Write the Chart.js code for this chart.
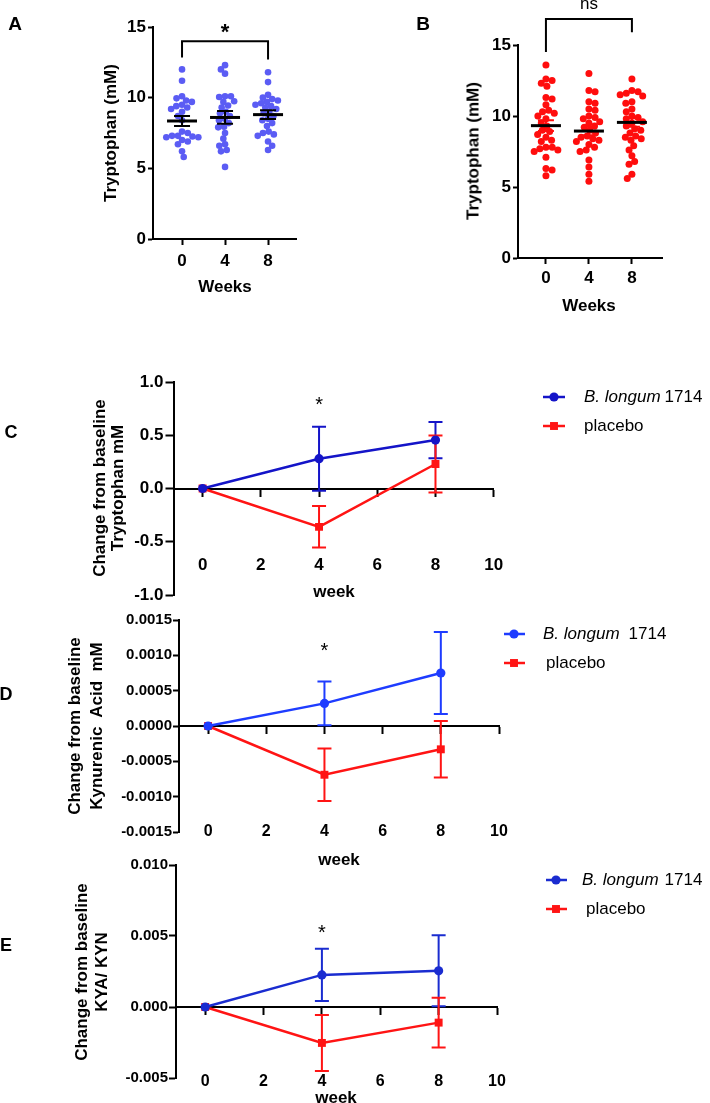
<!DOCTYPE html>
<html><head><meta charset="utf-8">
<script src="https://cdn.jsdelivr.net/npm/chart.js@4.4.0/dist/chart.umd.min.js"></script>
<style>
html,body{margin:0;padding:0;background:#fff;}
#wrap{position:relative;width:710px;height:1103px;overflow:hidden;background:#fff;}
canvas{position:absolute;}
.t{position:absolute;font-family:'Liberation Sans',Arial,sans-serif;color:#000;white-space:pre;transform:translate(-50%,-50%);line-height:1;}
.b{font-weight:bold;}
.rot{transform:translate(-50%,-50%) rotate(-90deg);text-align:center;}
</style></head><body>
<div id="wrap">
<canvas id="cA" width="345" height="300" style="left:0;top:0;width:345px;height:300px"></canvas>
<canvas id="cB" width="340" height="330" style="left:370px;top:0;width:340px;height:330px"></canvas>
<canvas id="cC" width="710" height="280" style="left:0;top:330px;width:710px;height:280px"></canvas>
<canvas id="cD" width="710" height="265" style="left:0;top:605px;width:710px;height:265px"></canvas>
<canvas id="cE" width="710" height="253" style="left:0;top:850px;width:710px;height:253px"></canvas>

<div class="t b" style="left:15px;top:23px;font-size:19px">A</div>
<div class="t b" style="left:423px;top:23px;font-size:19px">B</div>
<div class="t b rot" style="left:110px;top:133px;font-size:17px">Tryptophan (mM)</div>
<div class="t b rot" style="left:473px;top:151px;font-size:17px">Tryptophan (mM)</div>
<div class="t b" style="left:225px;top:286px;font-size:17px">Weeks</div>
<div class="t b" style="left:589px;top:305px;font-size:17px">Weeks</div>

<div class="t b" style="left:11px;top:432px;font-size:18px">C</div>
<div class="t b rot" style="left:108px;top:488px;font-size:17px;line-height:17.5px">Change from baseline
Tryptophan mM</div>
<div class="t b" style="left:334px;top:591px;font-size:17px">week</div>

<div class="t b" style="left:6px;top:694px;font-size:18px">D</div>
<div class="t b rot" style="left:86px;top:726px;font-size:17px;line-height:22px">Change from baseline
Kynurenic  Acid  mM</div>
<div class="t b" style="left:339px;top:859px;font-size:17px">week</div>

<div class="t b" style="left:6px;top:945px;font-size:18px">E</div>
<div class="t b rot" style="left:92px;top:972px;font-size:17px;line-height:20px">Change from baseline
KYA/ KYN</div>
<div class="t b" style="left:336px;top:1097px;font-size:17px">week</div>
</div>

<script>
// ---------- Panels A & B: individual tryptophan values (mM) ----------
const weeksAB = [0, 4, 8];
const yTicksAB = [0, 5, 10, 15];
const trpA_wk0 = [12.0, 11.2, 10.1, 9.95, 9.8, 9.7, 9.5, 9.4, 9.3, 9.2, 9.0, 8.7, 8.4, 7.6, 7.5, 7.3, 7.3, 7.25, 7.2, 7.2, 7.0, 6.9, 6.7, 6.2, 5.8];
const trpA_wk4 = [12.3, 12.0, 11.7, 10.1, 10.1, 10.05, 9.75, 9.7, 9.45, 9.3, 9.0, 8.9, 8.7, 8.5, 8.4, 8.2, 7.95, 7.9, 7.5, 7.1, 6.7, 6.6, 6.3, 6.2, 5.1];
const trpA_wk8 = [11.8, 11.1, 10.2, 10.0, 9.9, 9.8, 9.7, 9.6, 9.5, 9.4, 9.3, 9.2, 9.0, 8.9, 8.7, 8.5, 8.4, 8.2, 8.0, 7.6, 7.5, 7.4, 7.3, 6.9, 6.6, 6.3];
const trpA_mean = [8.35, 8.6, 8.8];
const trpA_sem = [0.35, 0.45, 0.31];

const trpB_wk0 = [13.6, 12.6, 12.5, 12.3, 12.1, 11.3, 11.2, 10.8, 10.4, 10.3, 10.2, 10.0, 9.8, 9.5, 9.3, 9.0, 8.9, 8.7, 8.5, 8.3, 8.2, 7.8, 7.8, 7.7, 7.6, 7.5, 7.1, 6.3, 6.2, 5.8];
const trpB_wk4 = [13.0, 11.8, 11.7, 11.0, 10.9, 10.5, 10.4, 10.0, 9.9, 9.8, 9.6, 9.5, 9.3, 9.2, 9.0, 8.8, 8.6, 8.5, 8.4, 8.3, 8.2, 8.0, 7.8, 7.6, 7.5, 6.9, 6.4, 5.9, 5.4];
const trpB_wk8 = [12.6, 11.8, 11.7, 11.6, 11.5, 11.4, 11.0, 10.9, 10.5, 10.3, 10.0, 9.9, 9.8, 9.6, 9.5, 9.3, 9.1, 9.0, 8.8, 8.6, 8.5, 8.4, 8.3, 7.9, 7.6, 7.2, 6.8, 6.6, 5.9, 5.6];
const trpB_mean = [9.32, 8.94, 9.55];
const trpB_sem = [0.38, 0.3, 0.3];

// ---------- Panels C, D, E: change from baseline (mean, SEM) ----------
const weeks = [0, 4, 8];
const weekTicks = [0, 2, 4, 6, 8, 10];
const legendItalic = ['B. longum', ''];
const legendPlain = ['1714', 'placebo'];

const trpChangeLongum = [0, 0.28, 0.455];
const trpChangeLongumSem = [0, 0.30, 0.17];
const trpChangePlacebo = [0, -0.36, 0.23];
const trpChangePlaceboSem = [0, 0.195, 0.267];
const trpChangeTicks = [-1.0, -0.5, 0.0, 0.5, 1.0];

const kynaChangeLongum = [0, 0.00032, 0.00075];
const kynaChangeLongumSem = [0, 0.00031, 0.00058];
const kynaChangePlacebo = [0, -0.00069, -0.00033];
const kynaChangePlaceboSem = [0, 0.00037, 0.0004];
const kynaChangeTicks = [-0.0015, -0.0010, -0.0005, 0.0, 0.0005, 0.0010, 0.0015];

const ratioChangeLongum = [0, 0.00226, 0.00255];
const ratioChangeLongumSem = [0, 0.00184, 0.0025];
const ratioChangePlacebo = [0, -0.00253, -0.0011];
const ratioChangePlaceboSem = [0, 0.00197, 0.00175];
const ratioChangeTicks = [-0.005, 0.0, 0.005, 0.010];

const FONT = "'Liberation Sans', Arial, Helvetica, sans-serif";

function axisBase(tickLen, size, pad) {
  return {
    grid: {display: true, drawOnChartArea: false, drawTicks: true, tickLength: tickLen, tickWidth: 2, tickColor: '#000'},
    border: {display: true, color: '#000', width: 2},
    ticks: {color: '#000', padding: pad, font: {family: FONT, size: size, weight: 'bold'}}
  };
}

function swarm(chart, groups, r, spacing) {
  const xs = chart.scales.x, ys = chart.scales.y;
  const D = spacing;
  const out = [];
  groups.forEach((vals, gi) => {
    const cx = xs.getPixelForValue(weeksAB[gi]);
    const placed = [];
    const order = vals.slice().sort((a, b) => b - a);
    let flip = 1;
    order.forEach(v => {
      const py = ys.getPixelForValue(v);
      const cands = [0];
      placed.forEach(p => {
        const dy = py - p.y;
        if (Math.abs(dy) < D) {
          const dx = Math.sqrt(D * D - dy * dy);
          cands.push(p.x + dx, p.x - dx);
        }
      });
      cands.sort((a, b) => (Math.abs(a) - Math.abs(b)) || (b - a) * flip);
      let best = null;
      for (const c of cands) {
        if (placed.every(p => (c - p.x) ** 2 + (py - p.y) ** 2 >= D * D - 0.01)) { best = c; break; }
      }
      if (best === null) best = 0;
      flip = -flip;
      placed.push({x: best, y: py});
      out.push({x: xs.getValueForPixel(cx + best), y: v});
    });
  });
  chart.data.datasets[0].data = out;
  chart.update('none');
}

function dotPanel(id, cfg) {
  const canvas = document.getElementById(id);
  const extras = {
    id: 'extras' + id,
    afterDatasetsDraw(chart) {
      const ctx = chart.ctx, xs = chart.scales.x, ys = chart.scales.y;
      ctx.save();
      weeksAB.forEach((w, i) => {
        const cx = xs.getPixelForValue(w);
        const yT = ys.getPixelForValue(cfg.mean[i] + cfg.sem[i]);
        const yB = ys.getPixelForValue(cfg.mean[i] - cfg.sem[i]);
        const yM = ys.getPixelForValue(cfg.mean[i]);
        ctx.strokeStyle = cfg.semColor; ctx.lineWidth = 2;
        ctx.beginPath();
        ctx.moveTo(cx, yT); ctx.lineTo(cx, yB);
        ctx.moveTo(cx - 8, yT); ctx.lineTo(cx + 8, yT);
        ctx.moveTo(cx - 8, yB); ctx.lineTo(cx + 8, yB);
        ctx.stroke();
        ctx.strokeStyle = '#000'; ctx.lineWidth = 3;
        ctx.beginPath(); ctx.moveTo(cx - 15, yM); ctx.lineTo(cx + 15, yM); ctx.stroke();
      });
      const b = cfg.bracket;
      const x1 = xs.getPixelForValue(weeksAB[0]), x2 = xs.getPixelForValue(weeksAB[2]);
      const yb = ys.getPixelForValue(b.top);
      ctx.strokeStyle = '#000'; ctx.lineWidth = 2;
      ctx.beginPath();
      ctx.moveTo(x1, ys.getPixelForValue(b.leftEnd)); ctx.lineTo(x1, yb);
      ctx.lineTo(x2, yb); ctx.lineTo(x2, ys.getPixelForValue(b.rightEnd));
      ctx.stroke();
      ctx.fillStyle = '#000'; ctx.font = b.font; ctx.textAlign = 'center'; ctx.textBaseline = 'middle';
      ctx.fillText(b.label, (x1 + x2) / 2, ys.getPixelForValue(b.labelY));
      ctx.restore();
    }
  };
  const groups = cfg.groups;
  const yAxis = Object.assign(axisBase(5, 17, 2), {
    type: 'linear', position: 'left', min: 0, max: 15,
    afterBuildTicks: s => { s.ticks = yTicksAB.map(v => ({value: v})); },
    afterFit: s => { s.width = cfg.yWidth; }
  });
  const xAxis = Object.assign(axisBase(6, 17, cfg.xPad), {
    type: 'linear', position: 'bottom', min: cfg.xMin, max: cfg.xMax,
    afterBuildTicks: s => { s.ticks = weeksAB.map(v => ({value: v})); },
    afterFit: s => { s.height = cfg.xHeight; }
  });
  const chart = new Chart(canvas, {
    type: 'scatter',
    data: {datasets: [{
      data: groups.flatMap((g, gi) => g.map(v => ({x: weeksAB[gi], y: v}))),
      backgroundColor: cfg.color, borderWidth: 0, pointRadius: cfg.r, pointHoverRadius: cfg.r
    }]},
    options: {
      responsive: false, animation: false, devicePixelRatio: 1, events: [],
      layout: {padding: cfg.padding},
      plugins: {legend: {display: false}, tooltip: {enabled: false}},
      scales: {x: xAxis, y: yAxis}
    },
    plugins: [extras]
  });
  swarm(chart, groups, cfg.r, cfg.spacing);
  return chart;
}

dotPanel('cA', {
  groups: [trpA_wk0, trpA_wk4, trpA_wk8], mean: trpA_mean, sem: trpA_sem,
  color: '#5b5cf4', semColor: '#000', r: 3.3, spacing: 5.9,
  yWidth: 153, xHeight: 61, xPad: 6, xMin: -2.7, xMax: 10.6,
  padding: {left: 0, top: 27, right: 49, bottom: 0},
  bracket: {top: 14.0, leftEnd: 12.85, rightEnd: 12.7, label: '*', labelY: 14.6, font: 'bold 22px ' + FONT}
});
dotPanel('cB', {
  groups: [trpB_wk0, trpB_wk4, trpB_wk8], mean: trpB_mean, sem: trpB_sem,
  color: '#ff0d0d', semColor: '#ff0d0d', r: 3.5, spacing: 6.3,
  yWidth: 148, xHeight: 72, xPad: 4, xMin: -2.6, xMax: 10.8,
  padding: {left: 0, top: 45, right: 48, bottom: 0},
  bracket: {top: 16.83, leftEnd: 14.5, rightEnd: 15.9, label: 'ns', labelY: 17.9, font: '17px ' + FONT}
});

function changePanel(id, cfg) {
  const canvas = document.getElementById(id);
  const mk = vals => weeks.map((w, i) => ({x: w, y: vals[i]}));
  const sems = [cfg.longumSem, cfg.placeboSem];
  const styles = [
    {color: cfg.blue, shape: 'circle', r: 4.6},
    {color: cfg.red, shape: 'rect', r: 5.6}
  ];
  const extras = {
    id: 'extras' + id,
    beforeDatasetsDraw(chart) {
      const ctx = chart.ctx, xs = chart.scales.x, ys = chart.scales.y;
      ctx.save();
      chart.data.datasets.forEach((ds, di) => {
        ctx.strokeStyle = styles[di].color; ctx.lineWidth = 2;
        ds.data.forEach((p, i) => {
          const e = sems[di][i];
          if (!e) return;
          const cx = xs.getPixelForValue(p.x);
          const yT = ys.getPixelForValue(p.y + e), yB = ys.getPixelForValue(p.y - e);
          ctx.beginPath();
          ctx.moveTo(cx, yT); ctx.lineTo(cx, yB);
          ctx.moveTo(cx - 7, yT); ctx.lineTo(cx + 7, yT);
          ctx.moveTo(cx - 7, yB); ctx.lineTo(cx + 7, yB);
          ctx.stroke();
        });
      });
      ctx.restore();
    },
    afterDraw(chart) {
      const ctx = chart.ctx, xs = chart.scales.x, ys = chart.scales.y;
      ctx.save();
      ctx.fillStyle = '#000'; ctx.textAlign = 'center'; ctx.textBaseline = 'middle';
      ctx.font = '20px ' + FONT;
      ctx.fillText('*', xs.getPixelForValue(cfg.starWeek), ys.getPixelForValue(cfg.starY));
      const L = cfg.legend;
      styles.forEach((st, i) => {
        const y = L.rows[i];
        ctx.strokeStyle = st.color; ctx.lineWidth = 2.5;
        ctx.beginPath(); ctx.moveTo(L.x0, y); ctx.lineTo(L.x1, y); ctx.stroke();
        ctx.fillStyle = st.color;
        if (st.shape === 'circle') {
          ctx.beginPath(); ctx.arc(L.xm, y, st.r, 0, Math.PI * 2); ctx.fill();
        } else {
          const h = st.r * Math.SQRT1_2;
          ctx.fillRect(L.xm - h, y - h, 2 * h, 2 * h);
        }
        ctx.fillStyle = '#000'; ctx.textAlign = 'left'; ctx.textBaseline = 'middle';
        let x = L.tx[i];
        if (legendItalic[i]) {
          ctx.font = 'italic 17px ' + FONT;
          ctx.fillText(legendItalic[i], x, y);
          x += ctx.measureText(legendItalic[i]).width + L.gap;
        }
        ctx.font = '17px ' + FONT;
        ctx.fillText(legendPlain[i], x, y);
      });
      ctx.restore();
    }
  };
  const yAxis = Object.assign(axisBase(cfg.yTick, cfg.yFont, cfg.yPad), {
    type: 'linear', position: 'left', min: cfg.ticks[0], max: cfg.ticks[cfg.ticks.length - 1],
    afterBuildTicks: s => { s.ticks = cfg.ticks.map(v => ({value: v})); },
    afterFit: s => { s.width = cfg.yWidth; }
  });
  yAxis.ticks.callback = v => (Math.abs(v) < 1e-12 ? 0 : v).toFixed(cfg.decimals);
  const xAxis = Object.assign(axisBase(7, cfg.xFont, cfg.xPad), {
    type: 'linear', position: {y: 0}, min: -1, max: 10,
    afterBuildTicks: s => { s.ticks = weekTicks.map(v => ({value: v})); }
  });
  return new Chart(canvas, {
    type: 'line',
    data: {datasets: [
      {data: mk(cfg.longum), borderColor: cfg.blue, backgroundColor: cfg.blue, pointStyle: 'circle',
       pointRadius: 4.6, pointHoverRadius: 4.6, borderWidth: 2.5, pointBorderWidth: 0, fill: false, tension: 0},
      {data: mk(cfg.placebo), borderColor: cfg.red, backgroundColor: cfg.red, pointStyle: 'rect',
       pointRadius: 5.6, pointHoverRadius: 5.6, borderWidth: 2.5, pointBorderWidth: 0, fill: false, tension: 0}
    ]},
    options: {
      responsive: false, animation: false, devicePixelRatio: 1, events: [],
      layout: {padding: cfg.padding},
      plugins: {legend: {display: false}, tooltip: {enabled: false}},
      scales: {x: xAxis, y: yAxis}
    },
    plugins: [extras]
  });
}

changePanel('cC', {
  longum: trpChangeLongum, longumSem: trpChangeLongumSem,
  placebo: trpChangePlacebo, placeboSem: trpChangePlaceboSem,
  ticks: trpChangeTicks, decimals: 1,
  blue: '#1414c8', red: '#ff1414',
  yWidth: 173.5, yTick: 8, yFont: 17, yPad: 2, xFont: 17, xPad: 60,
  padding: {left: 0, top: 52, right: 216.3, bottom: 15},
  starWeek: 4, starY: 0.78,
  legend: {rows: [67, 96], x0: 543, x1: 565, xm: 554, tx: [584, 584], gap: 4}
});
changePanel('cD', {
  longum: kynaChangeLongum, longumSem: kynaChangeLongumSem,
  placebo: kynaChangePlacebo, placeboSem: kynaChangePlaceboSem,
  ticks: kynaChangeTicks, decimals: 4,
  blue: '#1e3cff', red: '#ff1414',
  yWidth: 179, yTick: 6, yFont: 15, yPad: 1, xFont: 16, xPad: 89,
  padding: {left: 0, top: 15, right: 211, bottom: 38},
  starWeek: 4, starY: 0.00105,
  legend: {rows: [29, 58], x0: 504, x1: 525, xm: 514, tx: [543, 546], gap: 9}
});
changePanel('cE', {
  longum: ratioChangeLongum, longumSem: ratioChangeLongumSem,
  placebo: ratioChangePlacebo, placeboSem: ratioChangePlaceboSem,
  ticks: ratioChangeTicks, decimals: 3,
  blue: '#1a2cd0', red: '#ff1414',
  yWidth: 176, yTick: 7, yFont: 15, yPad: 1, xFont: 16, xPad: 58,
  padding: {left: 0, top: 15, right: 213, bottom: 25},
  starWeek: 4, starY: 0.00516,
  legend: {rows: [30, 59], x0: 546, x1: 567, xm: 556, tx: [582, 586], gap: 6}
});
</script>
</body></html>
